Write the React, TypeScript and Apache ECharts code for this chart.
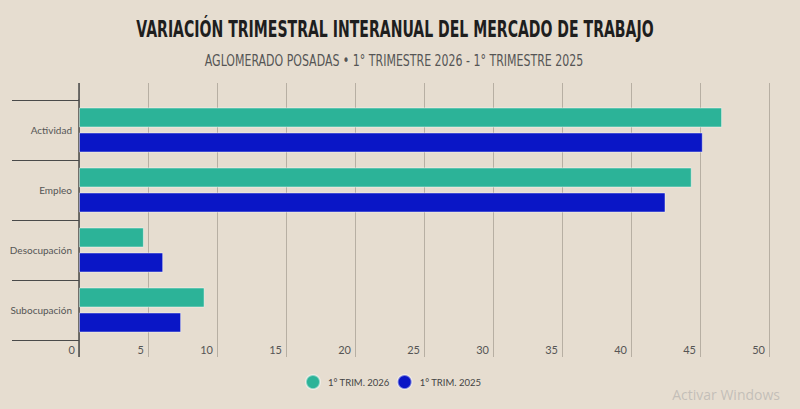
import React, { useEffect, useRef } from "react";
import * as echarts from "echarts";

const categories = ["Actividad", "Empleo", "Desocupación", "Subocupación"];
const series2026 = [46.6, 44.4, 4.7, 9.1];
const series2025 = [45.2, 42.5, 6.1, 7.4];
const seriesNames = ["1° TRIM. 2026", "1° TRIM. 2025"];
const xMin = 0;
const xMax = 50;
const xInterval = 5;

const TITLE = "VARIACIÓN TRIMESTRAL INTERANUAL DEL MERCADO DE TRABAJO";
const SUBTITLE = "AGLOMERADO POSADAS • 1° TRIMESTRE 2026 - 1° TRIMESTRE 2025";

export default function App() {
  const ref = useRef<HTMLDivElement>(null);
  useEffect(() => {
    if (!ref.current) return;
    const chart = echarts.init(ref.current, null, { renderer: "svg" });
    const narrow = '"DejaVu Sans Condensed", "Liberation Sans Narrow", sans-serif';
    const body = 'Lato, "Open Sans", sans-serif';
    const gridColor = "#b7afa3";
    const barBorder = "rgba(255,255,255,0.45)";
    chart.setOption({
      animation: false,
      backgroundColor: "#e6ddd0",
      legend: {
        left: 300,
        top: 369,
        icon: "circle",
        itemWidth: 14,
        itemHeight: 14,
        itemGap: 7,
        textStyle: { fontFamily: body, fontSize: 9.5, color: "#444", padding: [0, 0, 0, 3] },
        data: seriesNames,
      },
      grid: { left: 79, right: 31, top: 100, bottom: 69, containLabel: false },
      xAxis: [
        {
          type: "value",
          min: xMin,
          max: xMax,
          interval: xInterval,
          position: "bottom",
          axisLine: { show: false },
          axisTick: { show: true, length: 17, lineStyle: { color: gridColor, width: 1 } },
          splitLine: { show: true, lineStyle: { color: gridColor, width: 1 } },
          axisLabel: {
            align: "right",
            margin: 4,
            padding: [0, 4, 0, 0],
            fontFamily: body,
            fontSize: 11,
            color: "#555",
          },
        },
        {
          type: "value",
          min: xMin,
          max: xMax,
          interval: xInterval,
          position: "top",
          axisLine: { show: false },
          axisTick: { show: true, length: 17, lineStyle: { color: gridColor, width: 1 } },
          splitLine: { show: false },
          axisLabel: { show: false },
        },
      ],
      yAxis: {
        type: "category",
        data: categories,
        inverse: true,
        axisLine: { show: true, lineStyle: { color: "#4a4a4a", width: 1.5 } },
        axisTick: { show: true, length: 67, lineStyle: { color: "#4a4a4a", width: 1 } },
        axisLabel: { margin: 7, fontFamily: body, fontSize: 10, color: "#555" },
      },
      graphic: [
        {
          type: "text",
          x: 395,
          y: 18,
          scaleX: 0.68,
          style: {
            text: TITLE,
            x: 0,
            y: 0,
            textAlign: "center",
            textVerticalAlign: "top",
            fontFamily: narrow,
            fontSize: 23,
            fontWeight: "bold",
            fill: "#1e1e1e",
          },
        },
        {
          type: "text",
          x: 394,
          y: 53,
          scaleX: 0.815,
          style: {
            text: SUBTITLE,
            x: 0,
            y: 0,
            textAlign: "center",
            textVerticalAlign: "top",
            fontFamily: narrow,
            fontSize: 15,
            fill: "#555",
          },
        },
        { type: "line", z: 100, shape: { x1: 79, y1: 83, x2: 79, y2: 100 }, style: { stroke: "#4a4a4a", lineWidth: 1.5 } },
        { type: "line", z: 100, shape: { x1: 79, y1: 340, x2: 79, y2: 357 }, style: { stroke: "#4a4a4a", lineWidth: 1.5 } },
        {
          type: "text",
          right: 20,
          top: 387,
          style: { text: "Activar Windows", fontFamily: '"Open Sans", sans-serif', fontSize: 14, fill: "rgba(160,160,160,0.5)" },
        },
      ],
      series: [
        {
          name: seriesNames[0],
          type: "bar",
          data: series2026,
          barWidth: 20,
          barGap: "25%",
          itemStyle: { color: "#2cb398", borderColor: barBorder, borderWidth: 1 },
        },
        {
          name: seriesNames[1],
          type: "bar",
          data: series2025,
          barWidth: 20,
          barGap: "25%",
          itemStyle: { color: "#0a16c6", borderColor: barBorder, borderWidth: 1 },
        },
      ],
    });
    return () => chart.dispose();
  }, []);
  return <div ref={ref} style={{ width: 800, height: 409, position: "absolute", left: 0, top: 0 }} />;
}
